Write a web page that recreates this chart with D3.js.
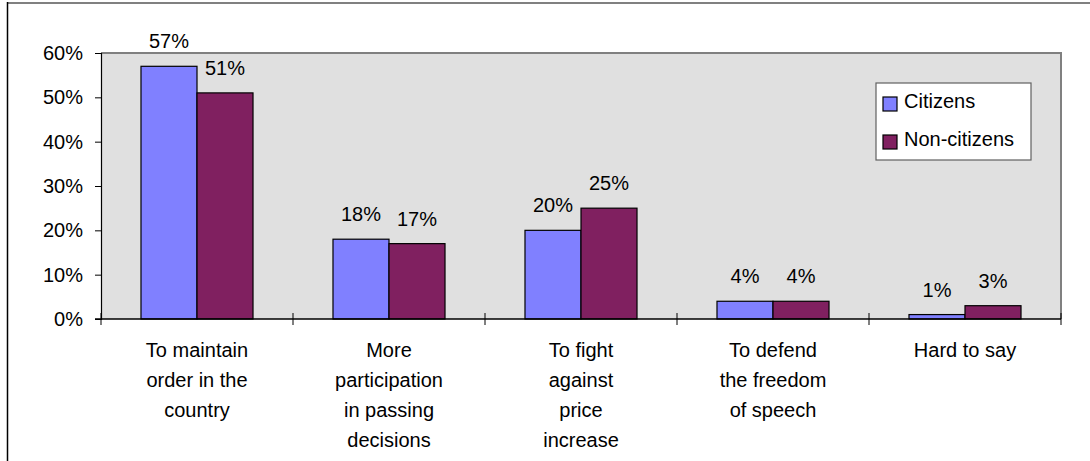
<!DOCTYPE html>
<html>
<head>
<meta charset="utf-8">
<script src="https://cdn.jsdelivr.net/npm/d3@7"></script>
<style>
  html, body { margin: 0; padding: 0; background: #ffffff; }
  svg { display: block; font-family: "Liberation Sans", Arial, sans-serif; }
</style>
</head>
<body>
<svg id="chart" width="1090" height="461"></svg>
<script>
const categories = [
  ["To maintain", "order in the", "country"],
  ["More", "participation", "in passing", "decisions"],
  ["To fight", "against", "price", "increase"],
  ["To defend", "the freedom", "of speech"],
  ["Hard to say"]
];
const categoryKeys = ["maintain", "participation", "prices", "speech", "hard"];
const seriesNames = ["Citizens", "Non-citizens"];
const citizens = [0.57, 0.18, 0.20, 0.04, 0.01];
const nonCitizens = [0.51, 0.17, 0.25, 0.04, 0.03];
const seriesColors = ["#8080FF", "#802060"];
const yTicks = [0, 0.1, 0.2, 0.3, 0.4, 0.5, 0.6];

const seriesValues = [citizens, nonCitizens];
const svg = d3.select("#chart");
const fontSize = 20;

const plot = { left: 101, right: 1061, top: 53, bottom: 319 };

// outer frame lines
svg.append("line").attr("x1", 7).attr("x2", 1090).attr("y1", 3).attr("y2", 3)
  .attr("stroke", "#808080").attr("stroke-width", 2);
svg.append("line").attr("x1", 7.5).attr("x2", 7.5).attr("y1", 2).attr("y2", 461)
  .attr("stroke", "#000").attr("stroke-width", 1.5);

const x = d3.scaleBand().domain(categoryKeys).range([plot.left, plot.right]).padding(0);
const y = d3.scaleLinear().domain([0, 0.6]).range([plot.bottom, plot.top]);
const inner = d3.scaleBand().domain(seriesNames)
  .range([x.bandwidth() * 0.2083, x.bandwidth() * 0.7917]).padding(0);

// plot background
svg.append("rect")
  .attr("x", plot.left).attr("y", plot.top)
  .attr("width", plot.right - plot.left).attr("height", plot.bottom - plot.top)
  .attr("fill", "#E0E0E0");
// gray top and right border
svg.append("path")
  .attr("d", `M${plot.left},${plot.top}H${plot.right}V${plot.bottom}`)
  .attr("fill", "none").attr("stroke", "#808080").attr("stroke-width", 2);

// bars
const barData = [];
categoryKeys.forEach((k, i) => {
  seriesNames.forEach((s, j) => {
    barData.push({ cat: k, series: s, value: seriesValues[j][i], color: seriesColors[j] });
  });
});

svg.append("g").selectAll("rect").data(barData).join("rect")
  .attr("x", d => x(d.cat) + inner(d.series))
  .attr("y", d => y(d.value))
  .attr("width", inner.bandwidth())
  .attr("height", d => y(0) - y(d.value))
  .attr("fill", d => d.color)
  .attr("stroke", "#000").attr("stroke-width", 1.2);

// value labels
svg.append("g").selectAll("text").data(barData).join("text")
  .attr("x", d => x(d.cat) + inner(d.series) + inner.bandwidth() / 2)
  .attr("y", d => y(d.value) - 18)
  .attr("text-anchor", "middle")
  .attr("font-size", fontSize)
  .attr("fill", "#000")
  .text(d => d3.format(".0%")(d.value));

// y axis
const yAxis = d3.axisLeft(y).tickValues(yTicks).tickFormat(d3.format(".0%"))
  .tickSize(6).tickPadding(12);
const gy = svg.append("g").attr("transform", `translate(${plot.left},0)`).call(yAxis);
gy.select(".domain").attr("stroke", "#000").attr("stroke-width", 1.2);
gy.selectAll(".tick line").attr("stroke", "#000");
gy.selectAll(".tick text").attr("font-size", fontSize).attr("fill", "#000")
  .attr("font-family", '"Liberation Sans", Arial, sans-serif');

// x axis with crossing ticks at category boundaries
const xAxisG = svg.append("g");
xAxisG.append("line").attr("x1", plot.left - 6).attr("x2", plot.right)
  .attr("y1", plot.bottom).attr("y2", plot.bottom)
  .attr("stroke", "#000").attr("stroke-width", 1.5);
const boundaries = categoryKeys.map(k => x(k)).concat([x(categoryKeys[categoryKeys.length - 1]) + x.bandwidth()]);
xAxisG.selectAll("line.tk").data(boundaries).join("line").attr("class", "tk")
  .attr("x1", d => d).attr("x2", d => d)
  .attr("y1", plot.bottom - 6).attr("y2", plot.bottom + 6)
  .attr("stroke", "#000").attr("stroke-width", 1);

// category labels
const catG = svg.append("g").selectAll("text").data(categoryKeys).join("text")
  .attr("x", d => x(d) + x.bandwidth() / 2)
  .attr("y", 357)
  .attr("text-anchor", "middle")
  .attr("font-size", fontSize)
  .attr("fill", "#000");
catG.each(function (d, i) {
  const t = d3.select(this);
  categories[i].forEach((line, li) => {
    t.append("tspan").attr("x", x(d) + x.bandwidth() / 2)
      .attr("y", 357 + li * 30).text(line);
  });
});

// legend
const legend = svg.append("g");
legend.append("rect").attr("x", 876).attr("y", 83).attr("width", 155).attr("height", 77)
  .attr("fill", "#fff").attr("stroke", "#606060").attr("stroke-width", 1.2);
seriesNames.forEach((s, j) => {
  const ly = 108 + j * 38;
  legend.append("rect").attr("x", 883).attr("y", ly - 11).attr("width", 14).attr("height", 14)
    .attr("fill", seriesColors[j]).attr("stroke", "#000").attr("stroke-width", 1.2);
  legend.append("text").attr("x", 904).attr("y", ly)
    .attr("font-size", fontSize).attr("fill", "#000").text(s);
});
</script>
</body>
</html>
